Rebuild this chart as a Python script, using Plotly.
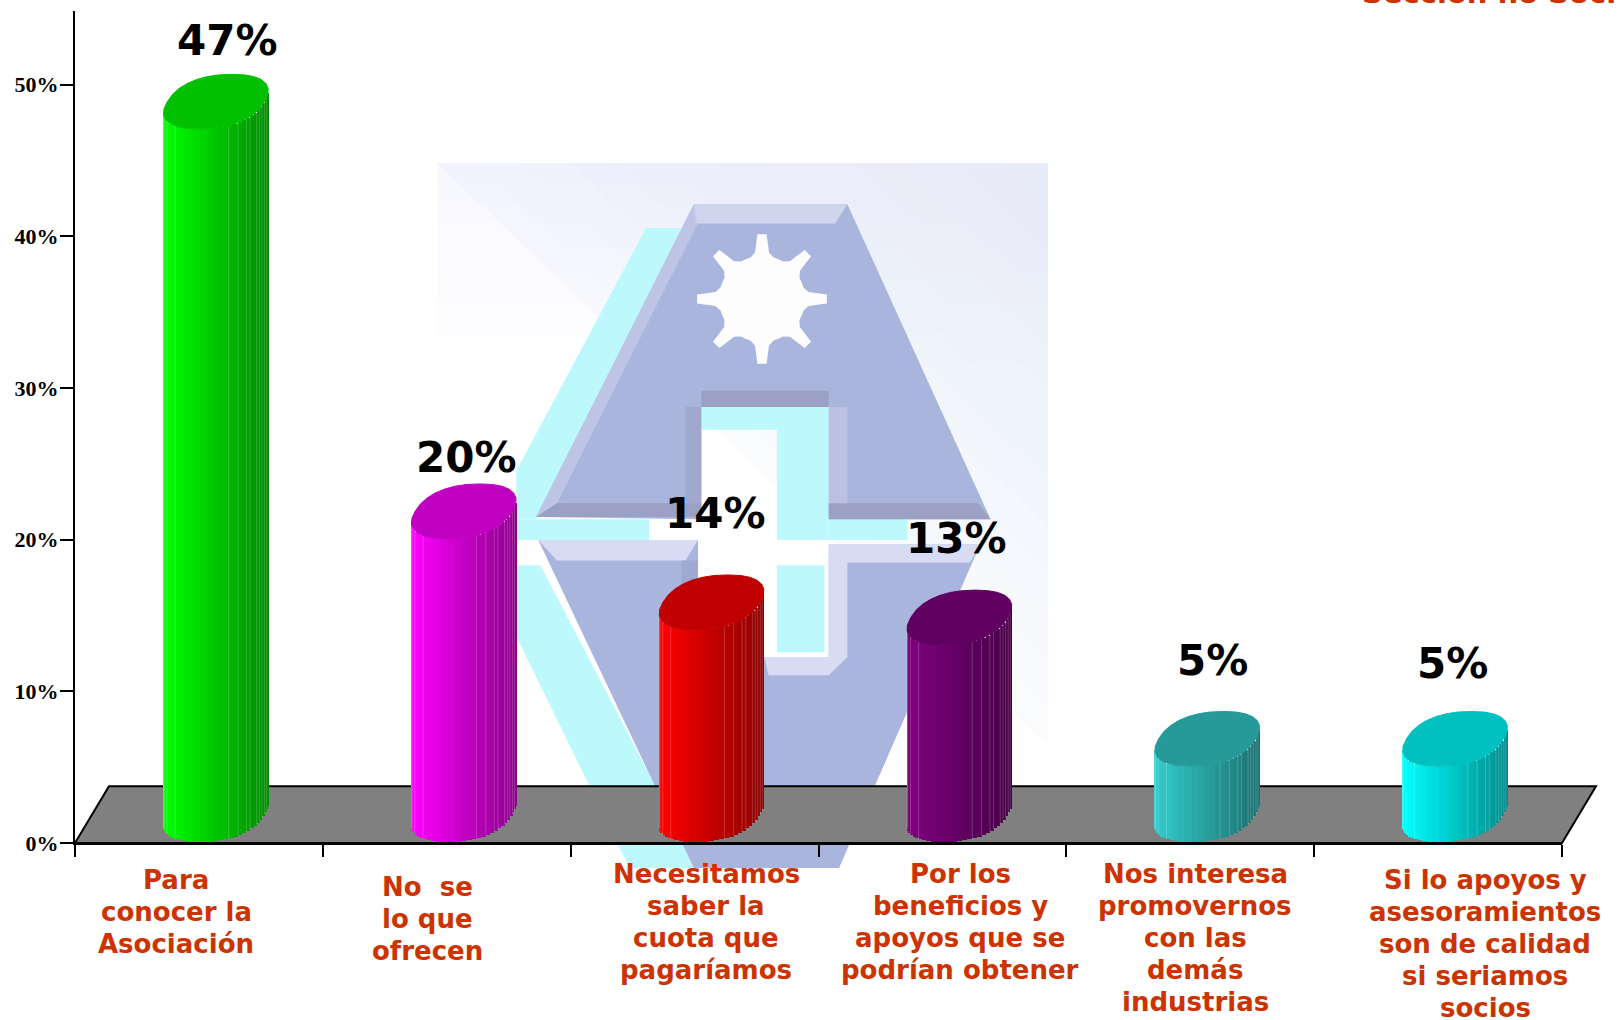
import math
import plotly.graph_objects as go

# ---------- data ----------
categories = [
    ["Para", "conocer la", "Asociación"],
    ["No  se", "lo que", "ofrecen"],
    ["Necesitamos", "saber la", "cuota que", "pagaríamos"],
    ["Por los", "beneficios y", "apoyos que se", "podrían obtener"],
    ["Nos interesa", "promovernos", "con las", "demás", "industrias"],
    ["Si lo apoyos y", "asesoramientos", "son de calidad", "si seriamos", "socios"],
]
values = [47, 20, 14, 13, 5, 5]
value_labels = ["47%", "20%", "14%", "13%", "5%", "5%"]
side_colors = [(0, 255, 0), (255, 0, 255), (255, 0, 0), (128, 0, 128), (51, 204, 204), (0, 255, 255)]
top_colors = ["#00c000", "#c000c0", "#c00000", "#600060", "#269999", "#00c0c0"]
y_ticks = [0, 10, 20, 30, 40, 50]
y_tick_labels = ["0%", "10%", "20%", "30%", "40%", "50%"]
x_ticks = [0, 1, 2, 3, 4, 5, 6]

# ---------- layout constants ----------
W, H = 1618, 1020
L, R, T, B = 75, 1562, 11, 843
Y_TOP = (B - T) / 15.17
FLOOR_DX, FLOOR_DY = 0.137, 3.74
CX_OFF, BASE_Y = 0.5 + FLOOR_DX / 2, FLOOR_DY / 2
A, K, EB = 0.196, 0.0648, 1.8
N_FACETS = 30
ROUND = 0.86
HIGHLIGHT_FACETS = [1, 2, 4, 7, 17, 19, 21, 22, 24, 25, 26, 27, 28]

value_nudge = [(0.115, 5.9), (0.08, 5.4), (0.085, 7.7), (0.055, 7.1), (0.09, 7.0), (0.06, 6.8)]
cat_cx = [176, 427, 706, 960, 1195, 1485]
cat_first = [880, 887, 874, 874, 874, 880]  # centre y (px) of each label's first line
LINE_PITCH = 32


def px(x, y):
    return (x - L) / (R - L), (B - y) / (B - T)


def path_from_px(points):
    parts = []
    for i, (x, y) in enumerate(points):
        u, v = px(x, y)
        parts.append(("M" if i == 0 else "L") + f"{u:.5f},{v:.5f}")
    return " ".join(parts) + " Z"


def zm(points):
    return [(420 + x / 2.41, 150 + y / 2.18) for x, y in points]


def spow(u):
    return math.copysign(abs(u) ** ROUND, u)


def rim(cx, cy, t):
    c, s = spow(math.cos(t)), spow(math.sin(t))
    return cx + A * c + K * s, cy + EB * s


shapes = []


def poly(points, fill, opacity=1.0, line=None, lw=0):
    shapes.append(dict(type="path", xref="paper", yref="paper", layer="below",
                       path=path_from_px(points), fillcolor=fill, opacity=opacity,
                       line=dict(color=line or "rgba(0,0,0,0)", width=lw)))


# --- logo backdrop ---
x0, x1, y0, y1 = 437, 1048, 163, 745
poly([(x0, y0), (x1, y0), (x1, y1), (x0, y1)], "#ffffff")
STEPS = 16
for i in range(1, STEPS):
    f = i / STEPS
    col = f"rgb({int(255 - 25 * f)},{int(255 - 17 * f)},{int(255 - 7 * f)})"
    dx, dy = (x1 - x0) * (1 - f) * 1.25, (y1 - y0) * (1 - f) * 1.25
    ax = max(x0, x1 - dx)
    by = min(y1, y0 + dy)
    poly([(ax, y0), (x1, y0), (x1, by)], col)
for h in (20, 40, 60, 85, 110, 140, 170, 200):
    poly([(x0, y0), (x1, y0), (x1, y0 + h), (x0, y0 + h)], "#e6eef8", 0.05)

CYAN = "#bdf9fc"
LOGO = "#aab5de"
poly(zm([(545, 170), (630, 170), (280, 805), (232, 805), (232, 700)]), CYAN)
poly(zm([(232, 805), (552, 805), (552, 850), (232, 850)]), CYAN)
poly(zm([(985, 805), (1175, 805), (1175, 850), (985, 850)]), CYAN)
poly(zm([(678, 560), (985, 560), (985, 850), (860, 850), (860, 610), (678, 610)]), CYAN)
poly(zm([(860, 905), (975, 905), (975, 1095), (860, 1095)]), CYAN)
poly(zm([(232, 905), (290, 905), (670, 1565), (505, 1565), (232, 1060)]), CYAN)

poly(zm([(660, 118), (1030, 118), (1375, 805), (985, 805), (985, 560), (678, 560), (678, 805), (280, 800)]), LOGO)
poly(zm([(285, 850), (670, 850), (670, 1105), (985, 1105), (985, 860), (1350, 860), (1010, 1565), (660, 1565)]), LOGO)
# bevels
poly(zm([(660, 118), (1030, 118), (1000, 160), (665, 160)]), "#d0d5ee")
poly(zm([(280, 800), (660, 118), (670, 160), (330, 770)]), "#c5cbea", 0.7)
poly(zm([(280, 800), (678, 800), (678, 770), (330, 770)]), "#9aa1c4")
poly(zm([(985, 805), (1375, 805), (1345, 770), (985, 770)]), "#9aa1c4")
poly(zm([(678, 525), (985, 525), (985, 560), (678, 560)]), "#9aa1c4")
poly(zm([(640, 560), (678, 560), (678, 770), (640, 770)]), "#9ba2c6", 0.7)
poly(zm([(985, 560), (1030, 560), (1030, 770), (985, 770)]), "#c0c6e6", 0.7)
poly(zm([(285, 850), (670, 850), (640, 895), (330, 895)]), "#d7dcf4")
poly(zm([(985, 860), (1350, 860), (1325, 900), (1030, 900), (1030, 1105), (985, 1145), (840, 1145), (830, 1105), (985, 1105)]), "#d7dcf4")
poly(zm([(630, 895), (670, 895), (670, 1105), (630, 1105)]), "#9ba2c6", 0.6)

# gear
gcx, gcy = 762, 299
gear = []
for i in range(8):
    th = i * math.pi / 4
    for d, r in [(-0.15, 47), (-0.07, 65), (0.07, 65), (0.15, 47), (0.27, 43), (0.39, 43), (0.51, 43)]:
        gear.append((gcx + r * math.cos(th + d), gcy - r * math.sin(th + d)))
poly(gear, "#fdfdfe")

# floor
fl = [(L, B), (R, B), (R + FLOOR_DX * 248, B - FLOOR_DY * 15.17), (L + FLOOR_DX * 248, B - FLOOR_DY * 15.17)]
poly(fl, "#808080", line="#000000", lw=2)

fig = go.Figure()

# ---------- cylinders ----------
R_E = math.hypot(A, K)
t_start = math.pi + math.atan2(K, A)
for i, v in enumerate(values):
    cx = i + CX_OFF
    xs, ws, bases, cols, hx, hy = [], [], [], [], [], []
    for j in range(N_FACETS):
        t1 = t_start + math.pi * j / N_FACETS
        t2 = t_start + math.pi * (j + 1) / N_FACETS
        xa, ya = rim(cx, BASE_Y, t1)
        xb, yb = rim(cx, BASE_Y, t2)
        xs.append((xa + xb) / 2)
        ws.append(abs(xb - xa) * 1.03)
        bases.append((ya + yb) / 2)
        frac = ((xa + xb) / 2 - (cx - R_E)) / (2 * R_E)
        shade = 1 - 0.45 * max(0, min(1, frac))
        c = side_colors[i]
        cols.append(f"rgb({int(c[0]*shade)},{int(c[1]*shade)},{int(c[2]*shade)})")
        if j in HIGHLIGHT_FACETS:
            hx += [xa, xa, None]
            hy += [ya, ya + v, None]
    fig.add_trace(go.Bar(x=xs, y=[v] * N_FACETS, base=bases, width=ws,
                         marker=dict(color=cols, line=dict(width=0)),
                         hoverinfo="skip", showlegend=False))
    fig.add_trace(go.Scatter(x=hx, y=hy, mode="lines", line=dict(color="rgba(255,255,255,0.2)", width=1),
                             hoverinfo="skip", showlegend=False))

for i, v in enumerate(values):
    cx = i + CX_OFF
    ex, ey = [], []
    for j in range(29):
        ox, oy = rim(cx, BASE_Y + v, 2 * math.pi * j / 28)
        ex.append(ox)
        ey.append(oy)
    fig.add_trace(go.Scatter(x=ex, y=ey, mode="lines", fill="toself", fillcolor=top_colors[i],
                             line=dict(color=top_colors[i], width=1), hoverinfo="skip", showlegend=False))

# ---------- annotations ----------
ann = []
for i, v in enumerate(values):
    dx, dy = value_nudge[i]
    ann.append(dict(x=i + 0.5 + dx, y=v + dy, xref="x", yref="y", text=value_labels[i], showarrow=False,
                    font=dict(family="DejaVu Sans", size=42, color="#000000", weight=700),
                    xanchor="center", yanchor="middle"))
for i, lines in enumerate(categories):
    for n, line in enumerate(lines):
        u, v = px(cat_cx[i], cat_first[i] + n * LINE_PITCH)
        ann.append(dict(x=u, y=v, xref="paper", yref="paper", text=line, showarrow=False,
                        font=dict(family="DejaVu Sans", size=26, color="#cc3300", weight=700),
                        xanchor="center", yanchor="middle", align="center"))
u, v = px(1360, 12)
ann.append(dict(x=u, y=v, xref="paper", yref="paper", text="Sección no Socios", showarrow=False,
                font=dict(family="DejaVu Sans", size=29, color="#cc3300", weight=700),
                xanchor="left", yanchor="bottom"))

fig.update_layout(
    width=W, height=H, autosize=False, barmode="overlay", bargap=0,
    paper_bgcolor="white", plot_bgcolor="rgba(0,0,0,0)",
    margin=dict(l=L, r=W - R, t=T, b=H - B, pad=0),
    shapes=shapes, annotations=ann, showlegend=False,
    xaxis=dict(range=[0, 6], tickmode="array", tickvals=x_ticks, ticktext=[""] * len(x_ticks),
               ticks="outside", ticklen=12, tickwidth=2, tickcolor="black",
               showline=True, linecolor="black", linewidth=2, showgrid=False, zeroline=False),
    yaxis=dict(range=[0, Y_TOP], tickmode="array", tickvals=y_ticks, ticktext=y_tick_labels,
               ticks="outside", ticklen=13, tickwidth=2, tickcolor="black", ticklabelstandoff=-3,
               tickfont=dict(family="Liberation Serif", size=22, color="black", weight=700),
               showline=True, linecolor="black", linewidth=2, showgrid=False, zeroline=False),
)

fig.write_html("out.html", config=dict(displayModeBar=False),
               post_script="document.body.style.margin='0';document.body.style.overflow='hidden';")
